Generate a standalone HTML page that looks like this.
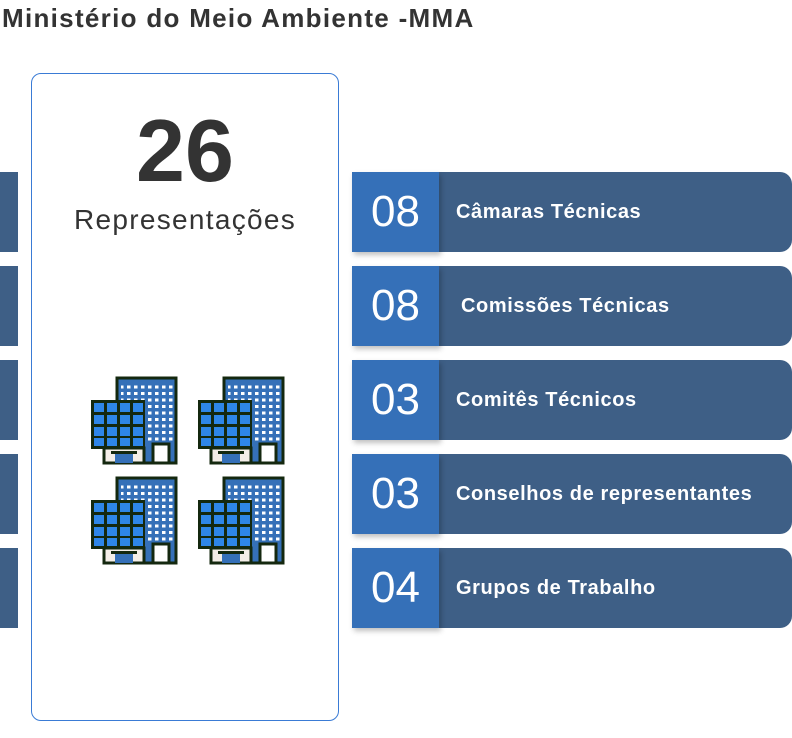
<!DOCTYPE html>
<html><head><meta charset="utf-8"><style>
body{margin:0;width:792px;height:738px;background:#fff;position:relative;overflow:hidden;font-family:"Liberation Sans","DejaVu Sans",sans-serif}
.t{position:absolute;left:2px;top:3px;font-size:26px;font-weight:bold;color:#333;white-space:nowrap;letter-spacing:1.3px}
.card{position:absolute;left:31px;top:73px;width:308px;height:648px;border:1.5px solid #3a7bd5;border-radius:10px;box-sizing:border-box}
.big{position:absolute;left:31px;width:308px;top:100px;text-align:center;font-size:88px;font-weight:bold;color:#333}
.rep{position:absolute;left:31px;width:308px;top:204px;text-align:center;font-size:28px;color:#333;letter-spacing:1.3px}
.lb{position:absolute;left:0;width:18px;height:80px;background:#3e5f86}
.row{position:absolute;left:352px;width:440px;height:80px;background:#3e5f86;border-radius:0 12px 12px 0}
.num{position:absolute;left:0;top:0;width:87px;height:80px;background:#3570b8;color:#fff;font-size:44px;line-height:80px;text-align:center;box-shadow:2px 3px 5px rgba(0,0,0,.25)}
.lab{position:absolute;left:104px;top:0;line-height:80px;color:#fff;font-size:20px;font-weight:bold;white-space:nowrap;letter-spacing:0.6px}
</style></head><body>
<div class="t">Ministério do Meio Ambiente -MMA</div>
<div class="lb" style="top:172px"></div><div class="lb" style="top:266px"></div><div class="lb" style="top:360px"></div><div class="lb" style="top:454px"></div><div class="lb" style="top:548px"></div>
<div class="card"></div>
<div class="big">26</div>
<div class="rep">Representações</div>
<svg style="position:absolute;left:0;top:0" width="792" height="738">
<defs>
<pattern id="dots" x="0" y="0" width="7" height="6.5" patternUnits="userSpaceOnUse"><rect x="2" y="2" width="3.5" height="3" fill="#fff"/></pattern>
<g id="b">
<rect x="27" y="1" width="59" height="85" fill="#3570b8" stroke="#14280f" stroke-width="3"/>
<rect x="31" y="5" width="53" height="60" fill="url(#dots)"/>
<rect x="63" y="67" width="16" height="19" fill="#fff" stroke="#14280f" stroke-width="3"/>
<rect x="14" y="71" width="40" height="15" fill="#f4eee8" stroke="#14280f" stroke-width="3"/>
<rect x="25" y="76" width="18" height="10" fill="#3570b8"/>
<rect x="21" y="74" width="26" height="3" fill="#14280f"/>
<rect x="1" y="23" width="54" height="49" fill="#14280f"/>
<g fill="#2e86e8">
<rect x="4" y="26" width="10" height="9"/><rect x="17" y="26" width="10" height="9"/><rect x="30" y="26" width="10" height="9"/><rect x="43" y="26" width="10" height="9"/>
<rect x="4" y="38" width="10" height="9"/><rect x="17" y="38" width="10" height="9"/><rect x="30" y="38" width="10" height="9"/><rect x="43" y="38" width="10" height="9"/>
<rect x="4" y="50" width="10" height="9"/><rect x="17" y="50" width="10" height="9"/><rect x="30" y="50" width="10" height="9"/><rect x="43" y="50" width="10" height="9"/>
<rect x="4" y="61" width="10" height="8"/><rect x="17" y="61" width="10" height="8"/><rect x="30" y="61" width="10" height="8"/><rect x="43" y="61" width="10" height="8"/>
</g>
</g>
</defs>
<use href="#b" x="90" y="377"/><use href="#b" x="197" y="377"/>
<use href="#b" x="90" y="477"/><use href="#b" x="197" y="477"/>
</svg>
<div class="row" style="top:172px"><div class="num">08</div><div class="lab">Câmaras Técnicas</div></div>
<div class="row" style="top:266px"><div class="num">08</div><div class="lab" style="left:109px">Comissões Técnicas</div></div>
<div class="row" style="top:360px"><div class="num">03</div><div class="lab">Comitês Técnicos</div></div>
<div class="row" style="top:454px"><div class="num">03</div><div class="lab">Conselhos de representantes</div></div>
<div class="row" style="top:548px"><div class="num">04</div><div class="lab">Grupos de Trabalho</div></div>
</body></html>
